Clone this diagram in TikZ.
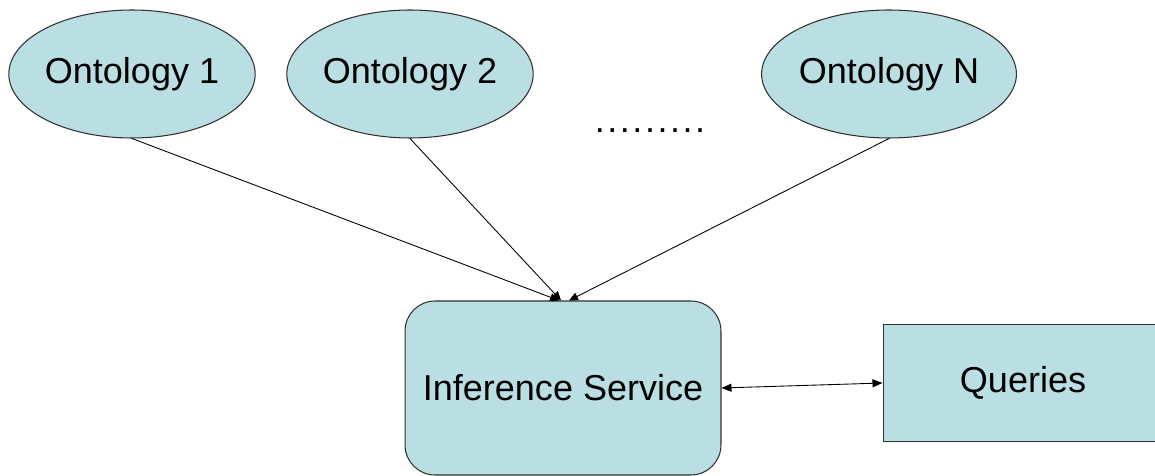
\documentclass[tikz,border=0pt]{standalone}
\usepackage{fontspec}
\setmainfont{Liberation Sans}
\usetikzlibrary{arrows.meta, shapes.geometric}
\definecolor{fuellung}{HTML}{B9DFE3}
\definecolor{rand}{HTML}{303030}

\begin{document}
\begin{tikzpicture}[
    x=0.02cm, y=-0.02cm,
    every node/.style={font=\fontsize{20.5}{24}\selectfont},
    onto/.style={ellipse, draw=rand, fill=fuellung, line width=0.6pt,
      minimum width=4.9cm, minimum height=2.56cm, inner sep=0pt},
    dienst/.style={rectangle, rounded corners=0.6cm, draw=rand, fill=fuellung,
      line width=0.6pt, minimum width=6.32cm, minimum height=3.48cm},
    anfrage/.style={rectangle, draw=rand, fill=fuellung, line width=0.6pt,
      minimum width=5.6cm, minimum height=2.34cm},
    pfeil/.style={-{Triangle[length=0.18cm, width=0.16cm]}, line width=0.5pt},
  ]
  \useasboundingbox (0,0) rectangle (1155,476);
  \clip (0,0) rectangle (1155,476);

  % Ontologien
  \node[onto] (o1) at (132,74) {Ontology 1};
  \node[onto] (o2) at (410,74) {Ontology 2};
  \node[onto] (oN) at (889,74) {Ontology N};
  \node[font=\fontsize{20.5}{24}\selectfont\addfontfeatures{LetterSpace=7}]
    (punkte) at (650,131) {.........};

  % Dienst und Anfragen
  \node[dienst] (inf) at (563,388) {Inference Service};
  \node[anfrage] (anfr) at (1023,383) {Queries};

  % Verbindungen
  \draw[pfeil] (o1.south) -- ([xshift=-0.08cm]inf.north);
  \draw[pfeil] (o2.south) -- ([xshift=-0.04cm]inf.north);
  \draw[pfeil] (oN.south) -- ([xshift=0.12cm]inf.north);
  \draw[{Triangle[length=0.2cm, width=0.16cm]}-{Triangle[length=0.2cm, width=0.16cm]},
    line width=0.5pt] (inf.east) -- (anfr.west);
\end{tikzpicture}
\end{document}
